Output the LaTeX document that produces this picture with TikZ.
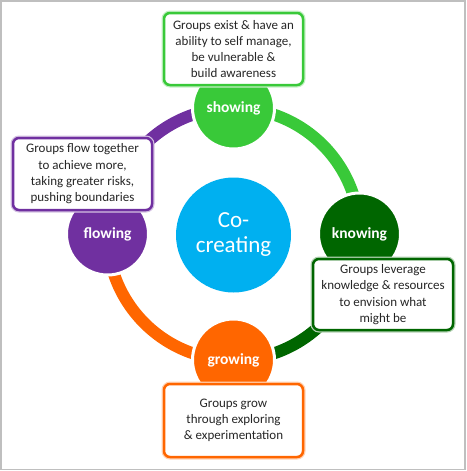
\documentclass[tikz,border=0pt]{standalone}
\usepackage{fontspec}
\setmainfont{Carlito}
\definecolor{cshow}{RGB}{57,201,57}
\definecolor{cknow}{RGB}{0,102,0}
\definecolor{cgrow}{RGB}{255,102,0}
\definecolor{cflow}{RGB}{112,48,160}
\definecolor{ccore}{RGB}{0,176,240}
\definecolor{cframe}{RGB}{191,191,191}
\definecolor{ctext}{RGB}{38,38,38}
\begin{document}
\begin{tikzpicture}[x=1pt,y=-1pt,
  ringarc/.style={line width=12pt},
  stage/.style={circle, minimum size=82pt, inner sep=0pt, draw=white, line width=3pt,
    text=white, font=\bfseries\fontsize{15.5}{17}\selectfont},
  desc/.style={draw=#1, rounded corners=6pt, line width=2.5pt, fill=white, align=center,
    preaction={draw=#1!30, line width=5pt},
    font=\fontsize{13}{16.3}\selectfont, text=ctext,
    minimum width=139pt, minimum height=72pt, inner sep=0pt}]
\useasboundingbox (0,0) rectangle (466,471);
\draw[cframe, line width=1.5pt] (0.75,0.75) rectangle (465,469.5);
% stage positions
\coordinate (cs) at (233.5,108);
\coordinate (ck) at (359.5,234);
\coordinate (cg) at (233.5,360);
\coordinate (cf) at (107.5,234);
% ring arcs (radius with unit: drawn in page orientation)
\draw[ringarc, cshow] (cs) arc[start angle=90, end angle=0, radius=126pt];
\draw[ringarc, cknow] (ck) arc[start angle=0, end angle=-90, radius=126pt];
\draw[ringarc, cgrow] (cg) arc[start angle=-90, end angle=-180, radius=126pt];
\draw[ringarc, cflow] (cf) arc[start angle=180, end angle=90, radius=126pt];
% stage circles
\node[stage, fill=cshow] (show) at (cs) {showing};
\node[stage, fill=cknow] (know) at (ck) {knowing};
\node[stage, fill=cgrow] (grow) at (cg) {growing};
\node[stage, fill=cflow] (flow) at (cf) {flowing};
% centre
\node[circle, fill=ccore, minimum size=115pt, inner sep=0pt, text=white, align=center,
  font=\fontsize{23}{25}\selectfont] (core) at (233.5,235) {Co-\\creating};
% description boxes
\node[desc=cshow] (dshow) at (233.5,49) {Groups exist \& have an\\ability to self manage,\\be vulnerable \&\\build awareness};
\node[desc=cflow] (dflow) at (82.5,174) {Groups flow together\\to achieve more,\\taking greater risks,\\pushing boundaries};
\node[desc=cknow, minimum width=140pt, minimum height=71pt] (dknow) at (383,294.5) {Groups leverage\\knowledge \& resources\\to envision what\\might be};
\node[desc=cgrow, minimum height=73pt] (dgrow) at (233.5,420.5) {Groups grow\\through exploring\\\& experimentation};
\end{tikzpicture}
\end{document}
